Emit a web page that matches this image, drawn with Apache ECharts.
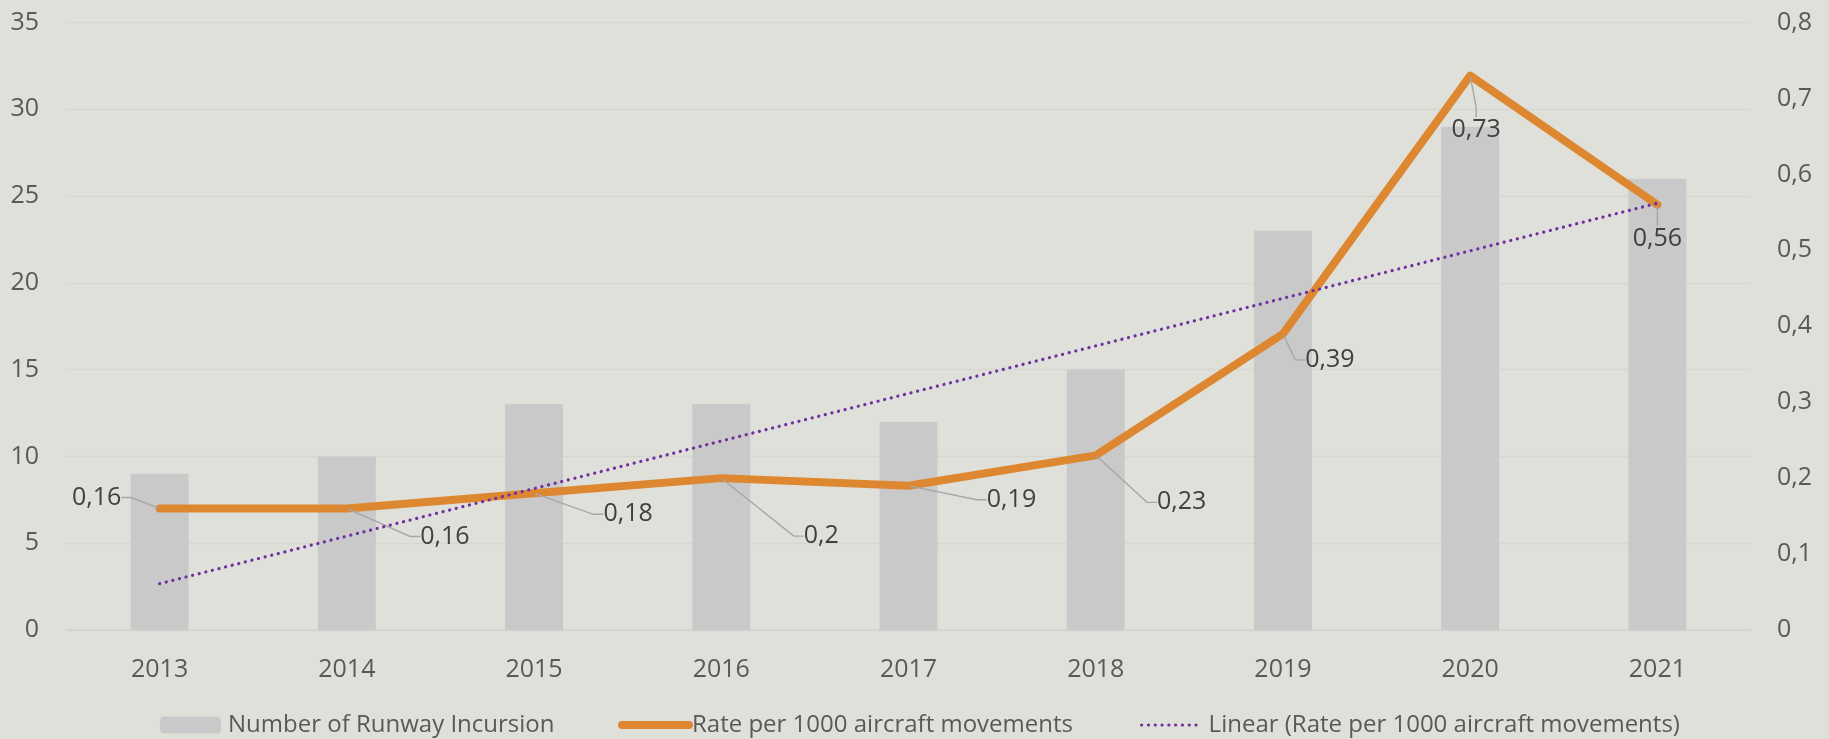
<!DOCTYPE html>
<html>
<head>
<meta charset="utf-8">
<script src="https://cdn.jsdelivr.net/npm/echarts@6/dist/echarts.min.js"></script>
<style>
html,body{margin:0;padding:0;background:#E0E0DB;}
#chart{width:1829px;height:739px;}
</style>
</head>
<body>
<div id="chart"></div>
<script>
// ---- data ----
const years = ['2013', '2014', '2015', '2016', '2017', '2018', '2019', '2020', '2021'];
const incursions = [9, 10, 13, 13, 12, 15, 23, 29, 26];
const rate = [0.16, 0.16, 0.18, 0.2, 0.19, 0.23, 0.39, 0.73, 0.56];
// trend line endpoints (straight line between)
const trendLine = [0.061, null, null, null, null, null, null, null, 0.562];
const seriesNames = ['Number of Runway Incursion', 'Rate per 1000 aircraft movements', 'Linear (Rate per 1000 aircraft movements)'];

// ---- layout (label offsets relative to their points) ----
const labelOffsets = [[-63, -11], [98, 28], [94, 21], [100, 58], [103, 14], [86, 47], [47, 26], [6, 54], [0, 34]];

const FONT = 'Open Sans';
const fmtComma = v => String(Math.round(v * 100) / 100).replace('.', ',');

const chart = echarts.init(document.getElementById('chart'), null, {renderer: 'canvas'});

const legendText = {fontFamily: FONT, fontSize: 24, color: '#595959'};
const axisText = {fontFamily: FONT, fontSize: 25, color: '#595959'};

chart.setOption({
  animation: false,
  backgroundColor: '#E0E0DB',
  grid: {left: 66, right: 78, top: 22.5, bottom: 109, containLabel: false},
  legend: [
    {data: [seriesNames[0]], left: 160, top: 713, padding: 0, itemWidth: 61, itemHeight: 17,
     textStyle: Object.assign({padding: [0, 0, 0, 2]}, legendText), selectedMode: false},
    {data: [seriesNames[1]], left: 618, top: 713, padding: 0, itemWidth: 67, itemHeight: 17,
     itemStyle: {opacity: 0},
     lineStyle: {width: 8, cap: 'round', color: '#DE8731'},
     textStyle: Object.assign({padding: [0, 0, 0, -2]}, legendText), selectedMode: false},
    {data: [seriesNames[2]], left: 1140, top: 713, padding: 0, itemWidth: 58, itemHeight: 17,
     itemStyle: {opacity: 0},
     lineStyle: {width: 3.2, type: [0.1, 6.7], cap: 'round', color: '#7030A0'},
     textStyle: Object.assign({padding: [0, 0, 0, 4]}, legendText), selectedMode: false}
  ],
  xAxis: {
    type: 'category',
    data: years,
    axisLine: {show: true, lineStyle: {color: '#D3D3CE', width: 1.5}},
    axisTick: {show: false},
    axisLabel: Object.assign({margin: 27}, axisText)
  },
  yAxis: [
    {
      type: 'value', min: 0, max: 35, interval: 5,
      axisLine: {show: false}, axisTick: {show: false},
      splitLine: {lineStyle: {color: '#D6D6D1', width: 1.3}},
      axisLabel: Object.assign({margin: 27}, axisText)
    },
    {
      type: 'value', min: 0, max: 0.8, interval: 0.1,
      axisLine: {show: false}, axisTick: {show: false},
      splitLine: {show: false},
      axisLabel: Object.assign({margin: 26, formatter: fmtComma}, axisText)
    }
  ],
  series: [
    {
      name: seriesNames[0],
      type: 'bar',
      data: incursions,
      barWidth: 58,
      itemStyle: {color: '#C9C9C9'},
      z: 1
    },
    {
      name: seriesNames[1],
      type: 'line',
      yAxisIndex: 1,
      data: rate,
      symbol: 'circle',
      symbolSize: 2,
      showSymbol: true,
      itemStyle: {color: '#DE8731'},
      lineStyle: {color: '#DE8731', width: 8, cap: 'round', join: 'round'},
      label: {
        show: true,
        position: 'inside',
        fontFamily: FONT,
        fontSize: 25,
        color: '#404040',
        padding: [0, 4, 0, 4],
        formatter: p => fmtComma(p.value)
      },
      labelLine: {show: true, length2: 10, lineStyle: {color: '#A6A6A6', width: 1.4}},
      labelLayout: function (params) {
        const o = labelOffsets[params.dataIndex] || [0, 0];
        return {dx: o[0], dy: o[1]};
      },
      z: 3
    },
    {
      name: seriesNames[2],
      type: 'line',
      yAxisIndex: 1,
      data: trendLine,
      connectNulls: true,
      symbol: 'none',
      itemStyle: {color: '#7030A0'},
      lineStyle: {color: '#7030A0', width: 3.2, type: [0.1, 6.7], cap: 'round'},
      z: 4
    }
  ]
});
</script>
</body>
</html>
